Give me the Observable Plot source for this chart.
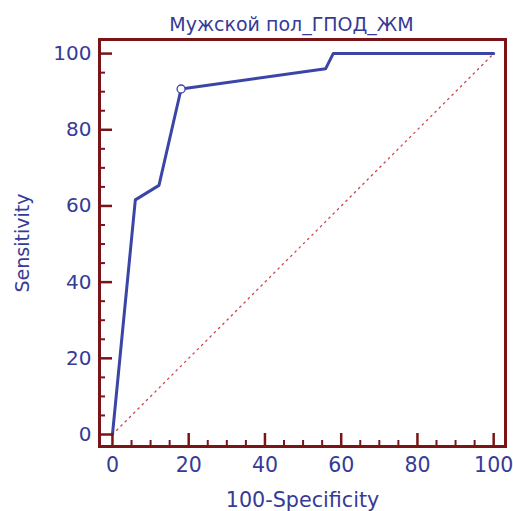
<!DOCTYPE html>
<html>
<head>
<meta charset="utf-8">
<script src="https://cdn.jsdelivr.net/npm/d3@7"></script>
<script src="https://cdn.jsdelivr.net/npm/@observablehq/plot@0.6"></script>
<style>
  html, body { margin: 0; padding: 0; background: #fff; }
  #chart svg { display: block; }
</style>
</head>
<body>
<div id="chart"></div>
<script>
// ROC curve data (100-Specificity, Sensitivity)
const fpr = [0, 6.0, 12.2, 18.0, 55.9, 57.9, 100];
const tpr = [0, 61.6, 65.4, 90.7, 96.0, 100, 100];
// optimal criterion point
const critX = [18.0];
const critY = [90.7];
// reference diagonal
const diagX = [0, 100];
const diagY = [0, 100];
// ticks
const majorTicks = [0, 20, 40, 60, 80, 100];
const minorTicks = d3.range(0, 101, 5).filter(v => v % 20 !== 0);
const titleText = "Мужской пол_ГПОД_ЖМ";
const xLabel = "100-Specificity";
const yLabel = "Sensitivity";

const W = 513, H = 511;
const mL = 99, mR = 8, mT = 39, mB = 65;
const plotW = W - mL - mR, plotH = H - mT - mB;
const frameColor = "#7a1416";
const textColor = "#353b96";
const curveColor = "#3b45a6";
const font = "DejaVu Sans, Verdana, sans-serif";

const curve = fpr.map((x, i) => ({x, y: tpr[i]}));
const diag = diagX.map((x, i) => ({x, y: diagY[i]}));
const crit = critX.map((x, i) => ({x, y: critY[i]}));

const chart = Plot.plot({
  width: W,
  height: H,
  marginLeft: mL,
  marginRight: mR,
  marginTop: mT,
  marginBottom: mB,
  style: {fontFamily: font, color: textColor, background: "#fff"},
  x: {domain: [-3.4, 103.1]},
  y: {domain: [-3.15, 103.7]},
  marks: [
    Plot.line(diag, {x: "x", y: "y", stroke: "#c8484a", strokeWidth: 1.3, strokeDasharray: "1.5,4.5"}),
    Plot.line(curve, {x: "x", y: "y", stroke: curveColor, strokeWidth: 3, strokeLinejoin: "round"}),
    Plot.dot(crit, {x: "x", y: "y", r: 4, fill: "#fff", stroke: curveColor, strokeWidth: 1.3}),
    // inward ticks
    Plot.tickY(majorTicks, {y: d => d, stroke: frameColor, strokeWidth: 2.5, insetRight: plotW - 13}),
    Plot.tickY(minorTicks, {y: d => d, stroke: frameColor, strokeWidth: 2, insetRight: plotW - 6}),
    Plot.tickX(majorTicks, {x: d => d, stroke: frameColor, strokeWidth: 2.5, insetTop: plotH - 13}),
    Plot.tickX(minorTicks, {x: d => d, stroke: frameColor, strokeWidth: 2, insetTop: plotH - 6}),
    Plot.axisY(majorTicks, {tickSize: 0, tickPadding: 8, fontSize: 20, label: null, fill: textColor}),
    Plot.axisX(majorTicks, {tickSize: 0, tickPadding: 11, fontSize: 20.5, label: null, fill: textColor}),
    Plot.frame({stroke: frameColor, strokeWidth: 3}),
    Plot.text([titleText], {frameAnchor: "top", dy: -15, dx: -11, fontSize: 19, fill: textColor, lineAnchor: "middle"}),
    Plot.text([xLabel], {frameAnchor: "bottom", dy: 54, fontSize: 20.7, fill: textColor, lineAnchor: "middle"}),
    Plot.text([yLabel], {frameAnchor: "left", dx: -77, rotate: -90, fontSize: 19, fill: textColor, textAnchor: "middle", lineAnchor: "middle"})
  ]
});
document.getElementById("chart").appendChild(chart);
</script>
</body>
</html>
